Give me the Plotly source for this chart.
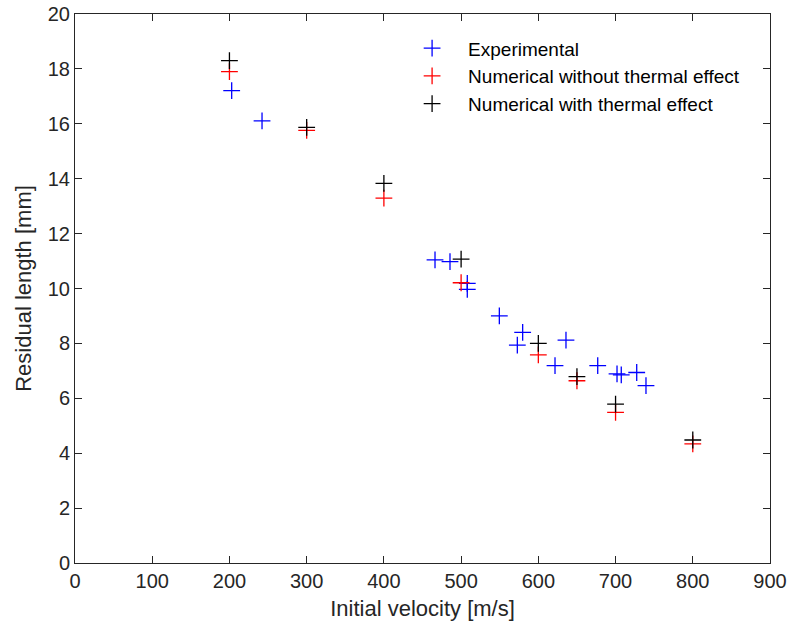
import plotly.graph_objects as go

# Experimental data
exp_v = [202.9, 242.2, 466.2, 485.6, 508.0, 508.0, 549.5, 579.7, 572.8, 635.8,
         621.6, 676.9, 701.9, 707.4, 727.4, 739.4]
exp_len = [17.21, 16.11, 11.04, 10.98, 10.19, 9.97, 9.00, 8.40, 7.94, 8.12,
           7.19, 7.19, 6.89, 6.85, 6.94, 6.46]

# Numerical without thermal effect
num_v = [200, 300, 400, 500, 600, 650, 700, 800]
num_nothermal = [17.90, 15.76, 13.29, 10.21, 7.58, 6.64, 5.49, 4.34]

# Numerical with thermal effect
num_thermal = [18.30, 15.87, 13.83, 11.07, 8.00, 6.79, 5.79, 4.48]

x_ticks = list(range(0, 901, 100))
y_ticks = list(range(0, 21, 2))

FONT = "Liberation Sans, Arial, sans-serif"
AX = "#262626"

fig = go.Figure()

def add(xs, ys, color, name):
    fig.add_trace(go.Scatter(
        x=xs, y=ys, mode="markers", name=name,
        marker=dict(symbol="cross-thin", size=12,
                    line=dict(color=color, width=1.3), color=color),
    ))

add(exp_v, exp_len, "#0000ff", "Experimental")
add(num_v, num_nothermal, "#ff0000", "Numerical without thermal effect")
add(num_v, num_thermal, "#000000", "Numerical with thermal effect")

axis_common = dict(
    showgrid=False, zeroline=False, showline=True, linecolor=AX, linewidth=1,
    mirror="ticks", ticks="inside", ticklen=7, tickcolor=AX, tickwidth=1,
    tickfont=dict(family=FONT, size=20, color=AX),
    automargin=False, ticklabeloverflow="allow",
)

fig.update_layout(
    width=789, height=632,
    margin=dict(l=75, r=19, t=14, b=69),
    paper_bgcolor="white", plot_bgcolor="white",
    font=dict(family=FONT, color=AX),
    showlegend=True,
    legend=dict(
        x=0.462, y=0.972, xanchor="left", yanchor="top",
        bgcolor="rgba(255,255,255,0)", borderwidth=0,
        font=dict(family=FONT, size=19, color="#000000"),
        itemwidth=62, tracegroupgap=0,
    ),
    xaxis=dict(
        range=[0, 900], tickvals=x_ticks,
        title=dict(text="Initial velocity [m/s]", font=dict(family=FONT, size=22, color=AX), standoff=9),
        **axis_common,
    ),
    yaxis=dict(
        range=[0, 20], tickvals=y_ticks,
        title=dict(text="Residual length [mm]", font=dict(family=FONT, size=22, color=AX), standoff=10),
        **axis_common,
    ),
)

fig.write_html("out.html", config={"displayModeBar": False},
               post_script="document.body.style.margin='0';")
